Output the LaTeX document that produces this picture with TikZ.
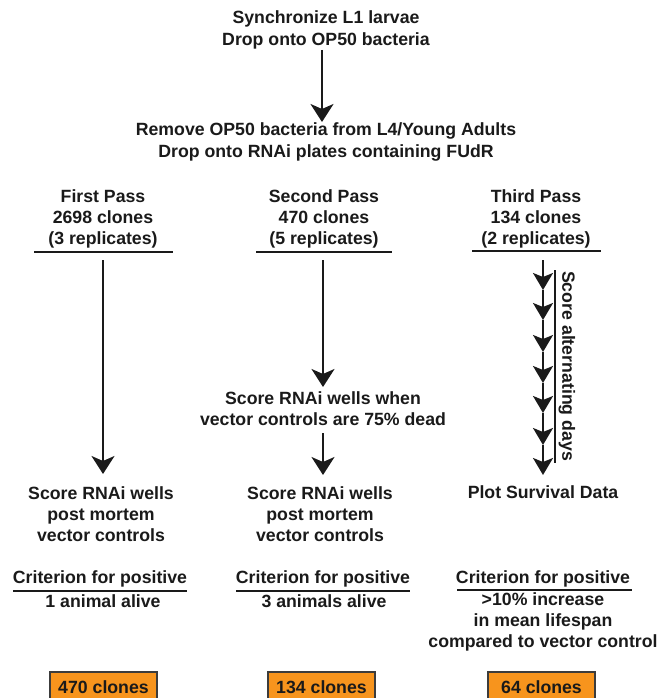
\documentclass[tikz,border=0pt]{standalone}
\usepackage{fontspec}
\setmainfont{Liberation Sans}
\usetikzlibrary{arrows.meta}
\definecolor{boxorange}{HTML}{F7941D}
\definecolor{ink}{HTML}{1A1A1A}
\tikzset{
  txt/.style={font=\bfseries\fontsize{17.7}{21.3}\selectfont, align=center, inner sep=0pt, text=ink},
  rule/.style={draw=ink, line width=2pt},
  arr/.style={draw=ink, line width=2pt, -{Stealth[length=18pt,width=23pt,inset=5pt]}},
  arrsmall/.style={draw=ink, line width=2pt, -{Stealth[length=17pt,width=20pt,inset=4pt]}},
  result/.style={txt, fill=boxorange, draw=ink!85, line width=1.5pt, minimum width=107pt, minimum height=30pt, anchor=north}
}
\begin{document}
\begin{tikzpicture}[x=1pt,y=-1pt]
\useasboundingbox[fill=white] (0,0) rectangle (668,698);

% top steps
\node[txt] (sync) at (326,30) {Synchronize L1 larvae\\Drop onto OP50 bacteria};
\node[txt] (remove) at (326,142) {Remove OP50 bacteria from L4/Young Adults\\Drop onto RNAi plates containing FUdR};
\coordinate (a0s) at (322,50);
\coordinate (a0e) at (322,122);
\draw[arr] (a0s) -- (a0e);

% pass headers
\node[txt] (pass1) at (103,219) {First Pass\\2698 clones\\(3 replicates)};
\node[txt] (pass2) at (324,219) {Second Pass\\470 clones\\(5 replicates)};
\node[txt] (pass3) at (536,219) {Third Pass\\134 clones\\(2 replicates)};
\coordinate (r1a) at (34,252); \coordinate (r1b) at (173,252);
\coordinate (r2a) at (256,252); \coordinate (r2b) at (392,252);
\coordinate (r3a) at (472,251); \coordinate (r3b) at (601,251);
\draw[rule] (r1a) -- (r1b);
\draw[rule] (r2a) -- (r2b);
\draw[rule] (r3a) -- (r3b);

% column 1
\node[txt] (score1) at (101,514) {Score RNAi wells\\post mortem\\vector controls};
\coordinate (c1s) at (103,260);
\coordinate (c1e) at (103,474);
\draw[arr] (c1s) -- (c1e);

% column 2
\node[txt] (when) at (323,409) {Score RNAi wells when\\vector controls are 75\% dead};
\node[txt] (score2) at (320,514) {Score RNAi wells\\post mortem\\vector controls};
\coordinate (c2s) at (323,260);
\coordinate (c2e) at (323,387);
\coordinate (c2s2) at (323,433);
\coordinate (c2e2) at (323,475);
\draw[arr] (c2s) -- (c2e);
\draw[arr] (c2s2) -- (c2e2);

% column 3
\node[txt] (plot) at (543,492) {Plot Survival Data};
\coordinate (t0) at (543,260);
\coordinate (t1) at (543,290);
\coordinate (t2) at (543,320);
\coordinate (t3) at (543,352);
\coordinate (t4) at (543,383);
\coordinate (t5) at (543,413);
\coordinate (t6) at (543,445);
\coordinate (t7) at (543,475);
\draw[arrsmall] (t0) -- (t1);
\draw[arrsmall] (t1) -- (t2);
\draw[arrsmall] (t2) -- (t3);
\draw[arrsmall] (t3) -- (t4);
\draw[arrsmall] (t4) -- (t5);
\draw[arrsmall] (t5) -- (t6);
\draw[arrsmall] (t6) -- (t7);
\coordinate (d1) at (555,270);
\coordinate (d2) at (555,463);
\draw[rule] (d1) -- (d2);
\node[txt, rotate=-90] (days) at (567,366) {Score alternating days};

% criteria
\node[txt] (crit1) at (100,579) {Criterion for positive};
\node[txt] (crit2) at (323,579) {Criterion for positive};
\node[txt] (crit3) at (543,579) {Criterion for positive};
\coordinate (k1a) at (13,591); \coordinate (k1b) at (187,591);
\coordinate (k2a) at (236,591); \coordinate (k2b) at (410,591);
\coordinate (k3a) at (457,590); \coordinate (k3b) at (632,590);
\draw[rule] (k1a) -- (k1b);
\draw[rule] (k2a) -- (k2b);
\draw[rule] (k3a) -- (k3b);
\node[txt] (pos1) at (103,601) {1 animal alive};
\node[txt] (pos2) at (324,601) {3 animals alive};
\node[txt] (pos3) at (543,622) {>10\% increase\\in mean lifespan\\compared to vector control};

% results
\node[result] (res1) at (103.5,671) {470 clones};
\node[result] (res2) at (321.5,671) {134 clones};
\node[result] (res3) at (541.5,671) {64 clones};
\end{tikzpicture}
\end{document}
